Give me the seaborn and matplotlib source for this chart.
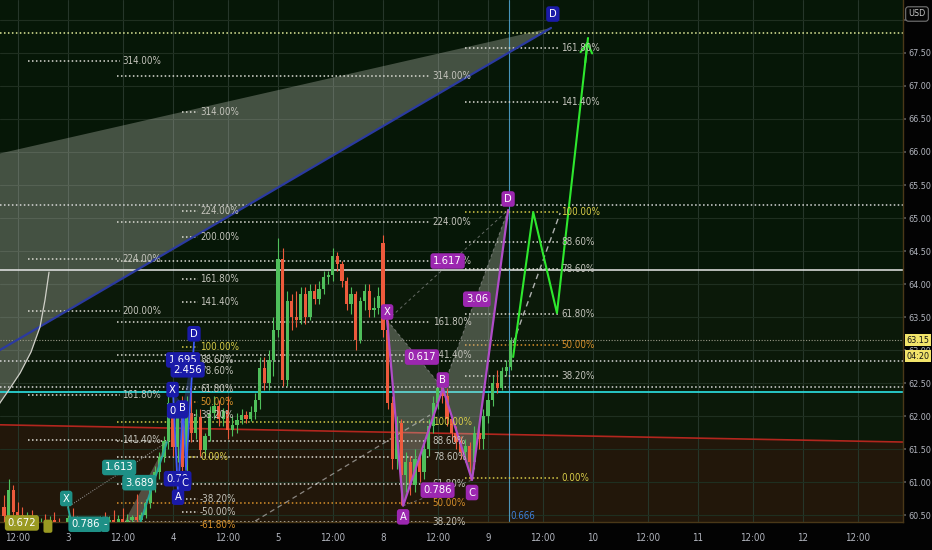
import numpy as np
import pandas as pd
import matplotlib
matplotlib.use("Agg")
import matplotlib.pyplot as plt
import matplotlib.transforms as mtrans
import seaborn as sns

# ---------------- data ----------------
bar_index = list(range(-14, 98))
opens = [60.62, 60.48, 60.88, 60.55, 60.50, 60.40, 60.45, 60.35, 60.30, 60.38, 60.30, 60.42, 60.34, 60.25,
         60.32, 60.45, 60.36, 60.28, 60.20, 60.30, 60.25, 60.32, 60.40, 60.35, 60.42, 60.38, 60.44, 60.40,
         60.42, 60.47, 60.42, 60.50, 60.68, 60.92, 61.15, 61.38, 61.62, 62.20, 61.53, 62.15, 61.23, 62.05,
         61.75, 61.98, 61.48, 61.70, 62.05, 62.15, 61.95, 62.08, 61.79, 61.86, 61.94, 62.02, 61.96, 62.06,
         62.24, 62.72, 62.50, 62.85, 63.30, 64.38, 62.55, 63.75, 63.50, 63.45, 63.85, 63.50, 63.90, 63.78,
         63.92, 64.10, 64.14, 64.42, 64.30, 64.05, 63.70, 63.85, 63.15, 63.75, 63.90, 63.60, 63.64, 64.62,
         63.30, 62.20, 61.35, 61.90, 61.10, 61.30, 60.95, 61.35, 61.15, 61.50, 61.85, 62.20, 62.42, 62.30,
         61.95, 61.75, 61.60, 61.45, 61.55, 61.30, 61.75, 61.65, 62.00, 62.25, 62.50, 62.42, 62.68, 62.75]
highs = [60.80, 61.05, 60.95, 60.70, 60.62, 60.55, 60.58, 60.50, 60.45, 60.52, 60.48, 60.55, 60.46, 60.40,
         60.50, 60.60, 60.48, 60.40, 60.35, 60.45, 60.38, 60.48, 60.55, 60.48, 60.58, 60.50, 60.60, 60.52,
         60.50, 60.82, 60.55, 60.75, 61.00, 61.25, 61.45, 61.70, 62.30, 62.45, 62.25, 62.30, 62.30, 62.50,
         62.10, 62.10, 61.75, 62.15, 62.30, 62.25, 62.12, 62.30, 62.00, 62.05, 62.10, 62.08, 62.15, 62.35,
         62.90, 62.90, 63.00, 63.50, 64.70, 64.55, 63.90, 63.85, 63.90, 63.95, 63.95, 64.00, 64.00, 64.05,
         64.20, 64.20, 64.55, 64.48, 64.35, 64.10, 63.95, 63.90, 63.80, 64.00, 64.00, 63.80, 63.95, 64.75,
         63.45, 62.30, 62.00, 61.95, 61.45, 61.40, 61.50, 61.45, 61.60, 61.95, 62.30, 62.50, 62.45, 62.42,
         62.00, 61.85, 61.70, 61.65, 61.60, 61.85, 61.90, 62.10, 62.35, 62.60, 62.70, 62.75, 62.85, 63.20]
lows = [60.40, 60.35, 60.45, 60.38, 60.30, 60.25, 60.30, 60.20, 60.15, 60.25, 60.20, 60.30, 60.18, 60.10,
        60.20, 60.30, 60.22, 60.12, 60.05, 60.18, 60.10, 60.20, 60.28, 60.22, 60.30, 60.25, 60.32, 60.28,
        60.35, 60.38, 60.36, 60.45, 60.60, 60.85, 61.05, 61.30, 61.50, 61.40, 61.30, 61.00, 61.10, 61.60,
        61.65, 61.40, 61.40, 61.62, 61.95, 61.85, 61.85, 61.65, 61.70, 61.75, 61.88, 61.90, 61.92, 61.95,
        62.10, 62.40, 62.40, 62.60, 63.20, 62.45, 62.45, 63.30, 63.35, 63.40, 63.40, 63.45, 63.70, 63.70,
        63.85, 64.00, 64.05, 64.20, 63.95, 63.60, 63.55, 63.00, 63.10, 63.60, 63.50, 63.50, 63.55, 63.20,
        62.10, 61.20, 61.20, 60.65, 60.85, 60.80, 60.85, 61.00, 61.05, 61.40, 61.75, 62.10, 62.20, 61.85,
        61.65, 61.50, 61.35, 61.30, 61.05, 61.20, 61.50, 61.50, 61.90, 62.15, 62.35, 62.40, 62.60, 62.70]
closes = [60.48, 60.88, 60.55, 60.50, 60.40, 60.45, 60.35, 60.30, 60.38, 60.30, 60.42, 60.34, 60.25, 60.32,
          60.45, 60.36, 60.28, 60.20, 60.30, 60.25, 60.32, 60.40, 60.35, 60.42, 60.38, 60.44, 60.40, 60.42,
          60.47, 60.42, 60.50, 60.68, 60.92, 61.15, 61.38, 61.62, 62.20, 61.53, 62.15, 61.23, 62.05, 61.75,
          61.98, 61.48, 61.70, 62.05, 62.15, 61.95, 62.08, 61.79, 61.86, 61.94, 62.02, 61.96, 62.06, 62.24,
          62.72, 62.50, 62.85, 63.30, 64.38, 62.55, 63.75, 63.50, 63.45, 63.85, 63.50, 63.90, 63.78, 63.92,
          64.10, 64.14, 64.42, 64.30, 64.05, 63.70, 63.85, 63.15, 63.75, 63.90, 63.60, 63.64, 63.82, 63.30,
          62.20, 61.35, 61.90, 61.10, 61.30, 60.95, 61.35, 61.15, 61.50, 61.85, 62.20, 62.42, 62.30, 61.95,
          61.75, 61.60, 61.45, 61.55, 61.30, 61.75, 61.65, 62.00, 62.25, 62.50, 62.42, 62.68, 62.75, 63.15]

tick_pos = [-11, 0, 12, 23, 35, 46, 58, 69, 81, 92, 104, 115, 127, 138, 150, 161, 173]
tick_labels = ["12:00", "3", "12:00", "4", "12:00", "5", "12:00", "8", "12:00", "9",
               "12:00", "10", "12:00", "11", "12:00", "12", "12:00"]
price_ticks = [60.5, 61.0, 61.5, 62.0, 62.5, 63.0, 63.5, 64.0, 64.5, 65.0, 65.5, 66.0, 66.5, 67.0, 67.5, 68.0]
last_price = 63.15

# fib tools: (0% price, 100% price, start bar, end bar, label bar)
fib_levels_left = [3.14, 2.24, 2.0, 1.618, 1.414]
fib_levels_mid = [3.14, 2.24, 2.0, 1.618, 1.414, 1.0, 0.886, 0.786, 0.618, 0.5, 0.382]
fib_levels_blue = [3.14, 2.24, 2.0, 1.618, 1.414, 1.0, 0.886, 0.786, 0.618, 0.5, 0.382, 0.0, -0.382, -0.5, -0.618]
fib_levels_right = [1.618, 1.414, 1.0, 0.886, 0.786, 0.618, 0.5, 0.382, 0.0]
fib_left = (56.93, 60.258, -8.8, 11.4, 11.8)
fib_mid = (59.458, 61.907, 10.7, 79.3, 79.9)
fib_blue = (61.379, 63.045, 25.0, 28.5, 28.9)
fib_right = (61.06, 65.09, 87.0, 107.3, 108.0)

full_dotted_prices = [67.80, 65.197, 62.833, 62.44]
white_line = 64.212
cyan_line = 62.364
red_line_x = [-16, 184]
red_line_y = [61.868, 61.604]
now_bar = 96.5

# harmonic patterns
big_x = [-30, 105.8, -30]
big_y = [65.74, 67.88, 62.39]
arc_x = [-4.16, -5.04, -6.13, -8.1, -10.5, -13.1, -14.9, -16.0]
arc_y = [64.18, 63.76, 63.35, 62.97, 62.65, 62.38, 62.2, 62.05]

pur_names = ["X", "A", "B", "C", "D"]
pur_x = [69.9, 73.4, 82.1, 88.5, 96.4]
pur_y = [63.45, 60.64, 62.42, 61.03, 65.12]
pur_ratios = ["0.617", "0.786", "3.06", "1.617"]

blue_x = [23.0, 24.1, 25.2, 25.85, 27.6]
blue_y = [62.36, 60.80, 62.17, 61.18, 63.12]

teal_x = [0.0, 1.75, 9.64, 14.17, 21.69]
teal_y = [60.621, 60.045, 60.045, 60.045, 61.606]

zz_x = [97.5, 101.9, 107.1, 113.9]
zz_y = [62.894, 65.09, 63.56, 67.727]
proj_dash_x = [97.5, 107.8]
proj_dash_y = [63.106, 65.076]
long_dash_x = [37.7, 79.3]
long_dash_y = [60.27, 62.015]

# ---------------- style ----------------
sns.set_theme(style="dark")
plt.rcParams['font.family'] = ['DejaVu Sans']
plt.rcParams['font.stretch'] = 'condensed'

fig = plt.figure(figsize=(9.32, 5.5), dpi=100, facecolor="#030303")
ax = fig.add_axes([0, 28 / 550, 903 / 932, 522 / 550])
ax.set_facecolor("#061707")
XL = (-14.9, 182.9)
YL = (60.394, 68.303)
ax.set_xlim(*XL)
ax.set_ylim(*YL)

# background zones
ax.fill_between(red_line_x, red_line_y, [white_line, white_line], color="#0b1909", zorder=0, lw=0)
ax.fill_between(red_line_x, red_line_y, [YL[0] - 1, YL[0] - 1], color="#22170a", zorder=0, lw=0)

# grid
for t in tick_pos:
    ax.axvline(t, color="#26362a", lw=0.8, zorder=0.5)
for p in price_ticks:
    ax.axhline(p, color="#1f2f20", lw=0.8, zorder=0.5)

# big grey triangle + blue line + arc
ax.fill(big_x, big_y, color="#c8ccc0", alpha=0.32, lw=0, zorder=1)
ax.fill(arc_x[2:] + [-16.0, -16.0], arc_y[2:] + [62.0, 62.95], color="#c8ccc0", alpha=0.32, lw=0, zorder=1)
sns.lineplot(x=[big_x[2], big_x[1]], y=[big_y[2], big_y[1]], ax=ax, color="#2b3aa0", lw=1.6, sort=False, zorder=3)
ax.plot(arc_x, arc_y, color="#d0d0c8", lw=0.9, zorder=3)

# full-width lines
for p, c in zip(full_dotted_prices, ["#e2ec9a", "#d8d8d8", "#d8d8d8", "#d8d8d8"]):
    ax.axhline(p, color=c, lw=1.1, ls=(0, (1, 1.6)), zorder=2)
ax.axhline(last_price, color="#9a9a88", lw=0.8, ls=(0, (1, 1.5)), zorder=2)
ax.axhline(white_line, color="#e8e8e8", lw=1.1, zorder=2)
ax.axhline(cyan_line, color="#2ad4d4", lw=1.3, zorder=2)
ax.plot(red_line_x, red_line_y, color="#b3261e", lw=1.2, zorder=2)
ax.axvline(now_bar, color="#58b4e6", lw=0.8, alpha=0.8, zorder=2)


def lvl_color(lv):
    if abs(lv - 1.0) < 1e-9 or abs(lv) < 1e-9:
        return "#d8cc48"
    if abs(lv - 0.5) < 1e-9 or abs(lv + 0.618) < 1e-9:
        return "#d8902a"
    return "#c4c4bc"


def fib(tool, levels):
    p0, p100, x0, x1, xl = tool
    for lv in levels:
        p = p0 + lv * (p100 - p0)
        c = lvl_color(lv)
        lc = c if c != "#c4c4bc" else "#dcdcd4"
        ax.hlines(p, x0, x1, colors=lc, lw=1.1, linestyles=(0, (1, 1.6)), zorder=2)
        ax.text(xl, p, f"{lv * 100:.2f}%", color=c, fontsize=7, va="center", ha="left", zorder=5)


fib(fib_left, fib_levels_left)
fib(fib_mid, fib_levels_mid)
fib(fib_blue, fib_levels_blue)
fib(fib_right, fib_levels_right)

# dashed guide lines
ax.plot(long_dash_x, long_dash_y, color="#d0d0d0", lw=0.9, ls=(0, (4, 3)), alpha=0.6, zorder=2)
ax.plot(proj_dash_x, proj_dash_y, color="#d8d8d8", lw=1.0, ls=(0, (4, 3)), alpha=0.8, zorder=2)

# candles
df = pd.DataFrame({"i": bar_index, "o": opens, "h": highs, "l": lows, "c": closes})
up = df["c"] >= df["o"]
col = np.where(up, "#4fbf5b", "#ee5a3c")
ax.vlines(df["i"], df["l"], df["h"], colors=col, lw=0.8, zorder=3)
body = (df["c"] - df["o"]).abs().clip(lower=0.02)
ax.bar(df["i"], body, bottom=np.minimum(df["o"], df["c"]), width=0.72, color=col, lw=0, zorder=3)

# teal pattern
ax.fill([teal_x[2], teal_x[4], teal_x[3]], [teal_y[2], teal_y[4], teal_y[3]], color="#c8ccc0", alpha=0.3, lw=0, zorder=2.5)
ax.plot(teal_x[:2], teal_y[:2], color="#26a69a", lw=1.4, zorder=4)
ax.plot(teal_x[3:], teal_y[3:], color="#26a69a", lw=1.4, zorder=4)
ax.plot([teal_x[0], teal_x[4]], [teal_y[0], teal_y[4]], color="#9a9a9a", lw=0.7, ls=(0, (1, 1.5)), zorder=4)

# blue pattern
ax.fill(blue_x[:3], blue_y[:3], color="#3f51b5", alpha=0.35, lw=0, zorder=2.5)
ax.fill(blue_x[2:], blue_y[2:], color="#3f51b5", alpha=0.35, lw=0, zorder=2.5)
ax.plot(blue_x, blue_y, color="#3d5afe", lw=1.2, zorder=4)

# purple pattern
ax.fill(pur_x[:3], pur_y[:3], color="#c8ccc0", alpha=0.32, lw=0, zorder=2.5)
ax.fill(pur_x[2:], pur_y[2:], color="#c8ccc0", alpha=0.32, lw=0, zorder=2.5)
sns.lineplot(x=pur_x, y=pur_y, ax=ax, color="#b04cc8", lw=1.6, sort=False, zorder=4)
pairs = [(0, 2), (1, 3), (2, 4), (0, 4)]
for a, b in pairs:
    ax.plot([pur_x[a], pur_x[b]], [pur_y[a], pur_y[b]], color="#a0a0a0", lw=0.7, ls=(0, (3, 3)), alpha=0.6, zorder=3.5)

# green projection
sns.lineplot(x=zz_x, y=zz_y, ax=ax, color="#2ee82e", lw=1.5, sort=False, zorder=4)
ax.annotate("", xy=(zz_x[-1], zz_y[-1]), xytext=(zz_x[-2] + 0.9 * (zz_x[-1] - zz_x[-2]), zz_y[-2] + 0.9 * (zz_y[-1] - zz_y[-2])),
            arrowprops=dict(arrowstyle="->,head_length=0.6,head_width=0.35", color="#2ee82e", lw=1.5), zorder=4)


def tag(x, y, s, fc, dx=0, dy=0, fs=7.5, tc="white", pad=0.25):
    ax.annotate(s, (x, y), xytext=(dx, dy), textcoords="offset points", ha="center", va="center",
                fontsize=fs, color=tc, zorder=6, annotation_clip=False,
                bbox=dict(boxstyle=f"round,pad={pad}", fc=fc, ec="none"))


PUR = "#9c27b0"
offs = [(0, 6), (0, -8), (0, 6), (0, -9), (0, 8)]
for n, x, y, (dx, dy) in zip(pur_names, pur_x, pur_y, offs):
    tag(x, y, n, PUR, dx, dy, fs=8)
for s, (a, b), (dx, dy) in zip(pur_ratios, pairs, [(5, -2), (0, 2), (1, 0), (0, 3)]):
    tag((pur_x[a] + pur_x[b]) / 2, (pur_y[a] + pur_y[b]) / 2, s, PUR, dx, dy, fs=8)

NAVY = "#1a1aa8"
tag(27.6, 63.12, "D", NAVY, 0, 6, fs=8)
tag(25.2, 62.85, "1.695", NAVY, 0, 0, fs=8)
tag(26.2, 62.70, "2.456", NAVY, 0, 0, fs=8)
tag(22.9, 62.40, "X", NAVY, 0, 0, fs=8)
tag(24.0, 62.08, "0.7", NAVY, 0, 0, fs=8)
tag(25.0, 62.12, "B", NAVY, 0, 0, fs=8)
tag(24.0, 61.05, "0.79", NAVY, 0, 0, fs=8)
tag(25.6, 60.98, "C", NAVY, 0, 0, fs=8)
tag(24.1, 60.77, "A", NAVY, 0, 0, fs=8)
tag(106.2, 68.09, "D", NAVY, 0, 0, fs=8)

TEAL = "#1e9086"
tag(-0.4, 60.75, "X", TEAL, 0, 0, fs=8)
tag(11.2, 61.22, "1.613", TEAL, 0, 0, fs=8)
tag(15.6, 60.99, "3.689", TEAL, 0, 0, fs=8)
tag(3.8, 60.36, "0.786", TEAL, 0, 0, fs=8)
tag(8.1, 60.36, "-", TEAL, 0, 0, fs=8)
OLIVE = "#9a9a22"
tag(-10.1, 60.38, "0.672", OLIVE, 0, 0, fs=8)
tag(-4.4, 60.33, "  ", OLIVE, 0, 0, fs=6)

ax.text(99.5, 60.485, "0.666", color="#3d7fd9", fontsize=7, ha="center", va="center", zorder=6)

# axes styling
ax.set_xticks(tick_pos, tick_labels)
ax.yaxis.tick_right()
ax.set_yticks(price_ticks, [f"{p:.2f}" if p < 67.9 else "" for p in price_ticks])
ax.tick_params(axis="x", colors="#b2b5be", labelsize=7, length=0, pad=8)
ax.tick_params(axis="y", colors="#b2b5be", labelsize=6.5, length=2, pad=2, labelcolor="#b2b5be")
ax.tick_params(axis="y", which="both", color="#555555")
ax.set_xlabel("")
ax.set_ylabel("")
ax.grid(False)
for s in ["top", "left"]:
    ax.spines[s].set_visible(False)
for s in ["right", "bottom"]:
    ax.spines[s].set_color("#4a3818")
    ax.spines[s].set_linewidth(1.0)

bt = mtrans.blended_transform_factory(ax.transAxes, ax.transData)
ax.annotate(f"{last_price:.2f}", xy=(1, last_price), xycoords=bt, xytext=(2.5, 0), textcoords="offset points",
            ha="left", va="center", fontsize=6.5, color="#151515", annotation_clip=False, zorder=7,
            bbox=dict(boxstyle="square,pad=0.2", fc="#f2e46a", ec="none"))
ax.annotate("04:20", xy=(1, last_price), xycoords=bt, xytext=(2.5, -11.5), textcoords="offset points",
            ha="left", va="center", fontsize=6.5, color="#151515", annotation_clip=False, zorder=7,
            bbox=dict(boxstyle="square,pad=0.2", fc="#f2e46a", ec="none"))
fig.text(917 / 932, 1 - 14 / 550, "USD", color="#c8c8c8", fontsize=6.5, ha="center", va="center",
         bbox=dict(boxstyle="round,pad=0.3", fc="#050505", ec="#777777", lw=0.8))

fig.savefig("out.png", dpi=100, facecolor=fig.get_facecolor())
